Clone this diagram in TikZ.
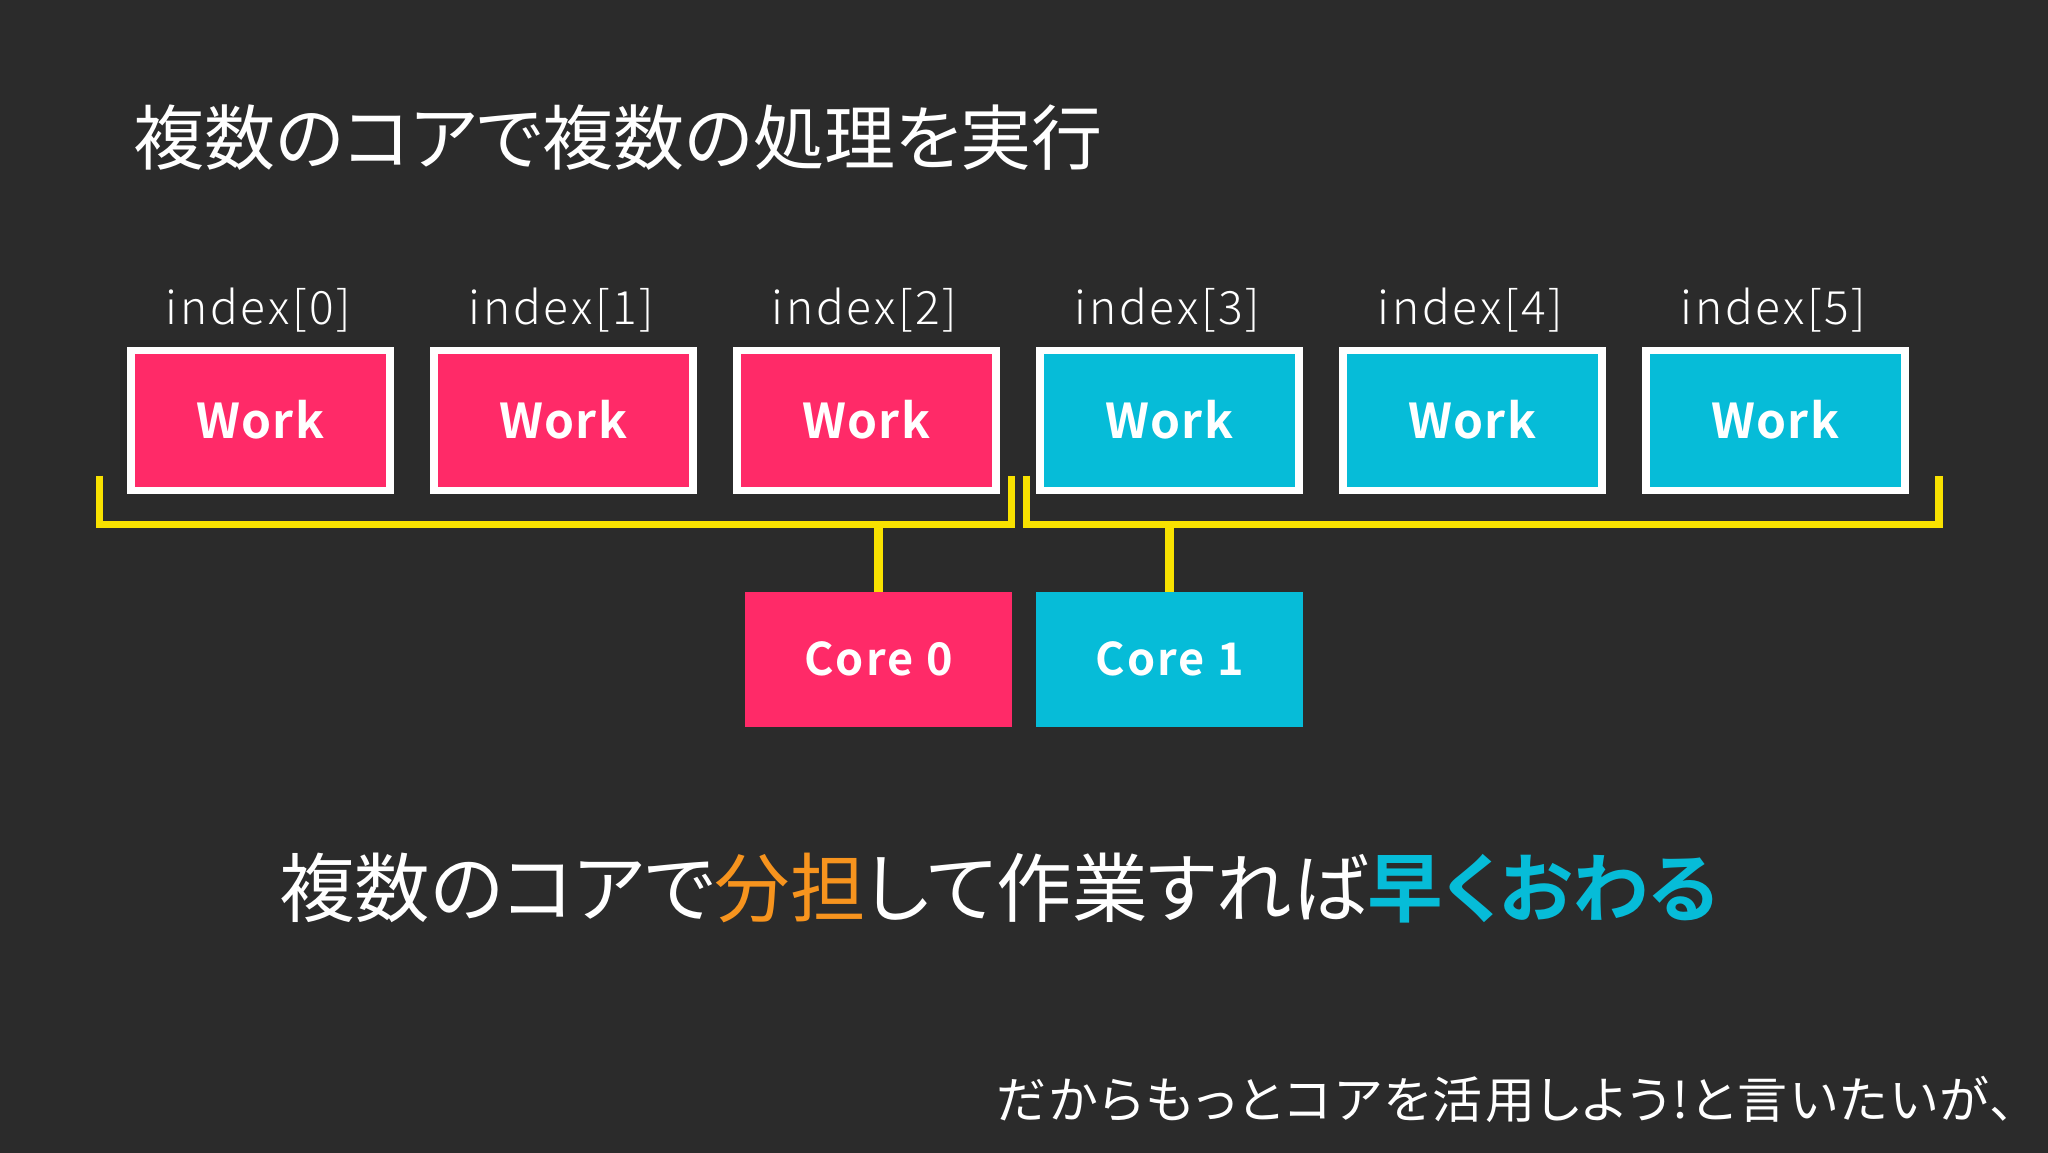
\documentclass[tikz,border=0pt]{standalone}
\usepackage{fontspec}
\newfontfamily\jp[RawFeature=+palt]{Noto Sans CJK JP}
\newfontfamily\jpn[RawFeature=+palt,LetterSpace=5]{Noto Sans CJK JP}
\newfontfamily\jpb[RawFeature=+palt]{Noto Sans CJK JP Bold}
\newfontfamily\jpi[LetterSpace=6]{Noto Sans CJK JP Light}
\newfontfamily\jpw[LetterSpace=2.5]{Noto Sans CJK JP Bold}
\newfontfamily\jpc[LetterSpace=5]{Noto Sans CJK JP Bold}
\definecolor{bgc}{HTML}{2B2B2B}
\definecolor{pinkc}{HTML}{FF2A68}
\definecolor{cyanc}{HTML}{06BCD8}
\definecolor{yelc}{HTML}{F8E100}
\definecolor{orgc}{HTML}{F7941E}
\tikzset{
  workbox/.style={draw=white,line width=7.5pt,minimum width=259pt,minimum height=140pt,inner sep=0pt,outer sep=0pt,text=white,font=\jpw\fontsize{48}{48}\selectfont},
  corebox/.style={minimum width=267pt,minimum height=135pt,inner sep=0pt,outer sep=0pt,text=white,font=\jpc\fontsize{45}{45}\selectfont},
  idx/.style={text=white,inner sep=0pt,font=\jpi\fontsize{46}{46}\selectfont},
  bracket/.style={draw=yelc,line width=7.7pt,miter limit=10},
  stem/.style={draw=yelc,line width=8.3pt},
  txt/.style={text=white,inner sep=0pt,anchor=base west}
}
\begin{document}
\begin{tikzpicture}[x=1pt,y=-1pt]
\useasboundingbox (0,0) rectangle (2048,1152);
\fill[bgc] (-5,-5) rectangle (2053,1157);
\node[txt,font=\jp\fontsize{71}{71}\selectfont] (title) at (133,164) {複数のコアで複数の処理を実行};
\foreach \i/\c in {0/pinkc,1/pinkc,2/pinkc,3/cyanc,4/cyanc,5/cyanc}{
  \node[workbox,fill=\c] (w\i) at ({260.25+303*\i},420.5) {\raisebox{1.5pt}{Work}};
  \node[idx] (l\i) at ({258.5+303*\i},310) {index[\i]};
}
\node[corebox,fill=pinkc] (c0) at (878.4,659.2) {Core 0};
\node[corebox,fill=cyanc] (c1) at (1169.6,659.2) {Core 1};
\coordinate (a0) at (99.4,475.7);
\coordinate (a1) at (99.4,524.5);
\coordinate (a2) at (1011.4,524.5);
\coordinate (a3) at (1011.4,475.7);
\coordinate (b0) at (1026.5,475.7);
\coordinate (b1) at (1026.5,524.5);
\coordinate (b2) at (1939,524.5);
\coordinate (b3) at (1939,475.7);
\draw[bracket] (a0) -- (a1) -- (a2) -- (a3);
\draw[bracket] (b0) -- (b1) -- (b2) -- (b3);
\draw[stem] (c0.north) -- (c0.north |- a1);
\draw[stem] (c1.north) -- (c1.north |- b1);
\node[txt,font=\jp\fontsize{75.5}{75.5}\selectfont] (sub) at (279,916.5) {複数のコアで{\color{orgc}分担}して作業すれば{\jpb\color{cyanc}早くおわる}};
\node[txt,font=\jpn\fontsize{50}{50}\selectfont] (note) at (996,1118) {だからもっとコアを活用しよう!と言いたいが、};
\end{tikzpicture}
\end{document}
